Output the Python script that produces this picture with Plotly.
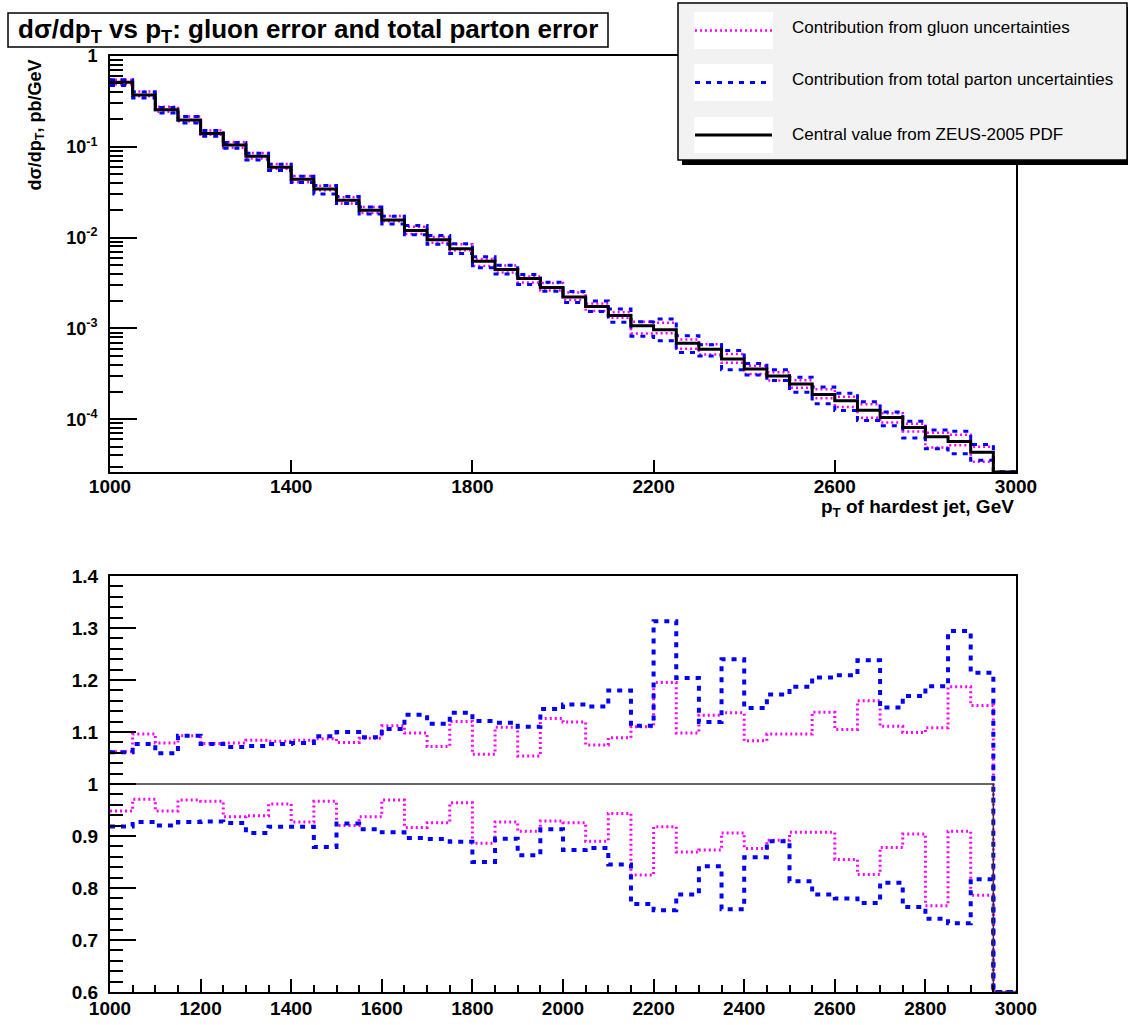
import plotly.graph_objects as go

# ---------------------------------------------------------------- data ----
# 50 GeV bins in pT of the hardest jet, 1000 .. 3000 GeV
bin_lo = list(range(1000, 3000, 50))
x_hi = 3000

# central d(sigma)/dpT [pb/GeV] from ZEUS-2005 PDF (last bin empty)
central = [0.515, 0.372, 0.256, 0.197, 0.1406, 0.1045, 0.0790, 0.0597, 0.0440, 0.0344,
           0.0258, 0.0200, 0.0156, 0.0120, 0.00948, 0.00754, 0.00550, 0.00445, 0.00354, 0.00282,
           0.00222, 0.00175, 0.00139, 0.00107, 0.000968, 0.000690, 0.000592, 0.000462, 0.000359, 0.000300,
           0.000245, 0.000188, 0.000160, 0.000126, 0.000105, 0.0000813, 0.0000641, 0.0000570, 0.0000434, 0.0]

# ratios to the central value: gluon-only and total parton uncertainties
gluon_up = [1.062, 1.096, 1.079, 1.093, 1.078, 1.079, 1.084, 1.082, 1.084, 1.087,
            1.080, 1.088, 1.112, 1.098, 1.072, 1.120, 1.057, 1.109, 1.054, 1.126,
            1.119, 1.075, 1.089, 1.110, 1.195, 1.098, 1.132, 1.137, 1.083, 1.096,
            1.096, 1.138, 1.105, 1.160, 1.111, 1.099, 1.108, 1.187, 1.151, 0.0]
gluon_dn = [0.948, 0.9705, 0.948, 0.969, 0.9666, 0.937, 0.939, 0.9615, 0.927, 0.9666,
            0.920, 0.937, 0.969, 0.9165, 0.9255, 0.964, 0.886, 0.927, 0.909, 0.929,
            0.9255, 0.890, 0.9435, 0.825, 0.918, 0.869, 0.873, 0.906, 0.876, 0.892,
            0.907, 0.907, 0.855, 0.826, 0.878, 0.904, 0.766, 0.909, 0.786, 0.0]
total_up = [1.061, 1.077, 1.059, 1.093, 1.077, 1.071, 1.073, 1.077, 1.079, 1.092,
            1.100, 1.090, 1.106, 1.133, 1.116, 1.137, 1.121, 1.118, 1.110, 1.144,
            1.153, 1.149, 1.180, 1.112, 1.313, 1.204, 1.119, 1.240, 1.146, 1.172,
            1.187, 1.205, 1.209, 1.238, 1.147, 1.169, 1.188, 1.294, 1.214, 0.0]
total_dn = [0.9185, 0.927, 0.920, 0.927, 0.928, 0.925, 0.906, 0.918, 0.918, 0.879,
            0.924, 0.913, 0.907, 0.896, 0.894, 0.889, 0.850, 0.8946, 0.863, 0.913,
            0.873, 0.877, 0.845, 0.769, 0.757, 0.7875, 0.842, 0.759, 0.859, 0.890,
            0.813, 0.7875, 0.780, 0.771, 0.810, 0.7636, 0.741, 0.732, 0.817, 0.0]

top_ticks = [1000, 1400, 1800, 2200, 2600, 3000]
log_ticks = [1, 0.1, 0.01, 0.001, 0.0001]
log_tick_text = ["1", "10<sup>-1</sup>", "10<sup>-2</sup>", "10<sup>-3</sup>", "10<sup>-4</sup>"]

# ---------------------------------------------------------------- style ---
W, H = 1128, 1025
FONT = "Liberation Sans, Arial, Helvetica, sans-serif"
MAGENTA = "#ff00ff"
BLUE = "#0000ff"
LOG_LO, LOG_HI = -4.58, 0.0
RATIO_LO, RATIO_HI = 0.6, 1.4


def px(x):
    return x / W


def py(y):
    return 1 - y / H


def steps(vals, floor):
    """Histogram outline: empty bins are drawn down at the axis floor."""
    ys = [v if v > floor else floor for v in vals]
    return bin_lo + [x_hi], ys + [ys[-1]]


fig = go.Figure()

# ---- upper pad: spectrum with uncertainty envelopes
floor_top = 10 ** LOG_LO
bands = [
    (gluon_up, MAGENTA, 2.5, "2px,3px"),
    (gluon_dn, MAGENTA, 2.5, "2px,3px"),
    (total_up, BLUE, 3, "5px,6px"),
    (total_dn, BLUE, 3, "5px,6px"),
]
for ratio, color, width, dash in bands:
    vals = [c * r for c, r in zip(central, ratio)]
    xs, ys = steps(vals, floor_top)
    fig.add_trace(go.Scatter(x=xs, y=ys, mode="lines", line_shape="hv",
                             line=dict(color=color, width=width, dash=dash),
                             xaxis="x", yaxis="y", showlegend=False, hoverinfo="skip"))
xs, ys = steps(central, floor_top)
fig.add_trace(go.Scatter(x=xs, y=ys, mode="lines", line_shape="hv",
                         line=dict(color="black", width=3),
                         xaxis="x", yaxis="y", showlegend=False, hoverinfo="skip"))

# ---- lower pad: ratios to the central value
ratio_bands = [
    (gluon_up, MAGENTA, 3, "2px,3px"),
    (gluon_dn, MAGENTA, 3, "2px,3px"),
    (total_up, BLUE, 4, "5px,6px"),
    (total_dn, BLUE, 4, "5px,6px"),
]
for ratio, color, width, dash in ratio_bands:
    xs, ys = steps(ratio, RATIO_LO)
    fig.add_trace(go.Scatter(x=xs, y=ys, mode="lines", line_shape="hv",
                             line=dict(color=color, width=width, dash=dash),
                             xaxis="x2", yaxis="y2", showlegend=False, hoverinfo="skip"))
unity = [c / c if c > 0 else 0.0 for c in central]
xs, ys = steps(unity, RATIO_LO)
fig.add_trace(go.Scatter(x=xs, y=ys, mode="lines", line_shape="hv",
                         line=dict(color="#333333", width=1.5),
                         xaxis="x2", yaxis="y2", showlegend=False, hoverinfo="skip"))

# ---------------------------------------------------------------- axes ----
tick_font = dict(family=FONT, size=19, color="black", weight=700)
frame = dict(showline=True, linecolor="black", linewidth=2, mirror=True,
             ticks="inside", tickcolor="black", tickwidth=2, automargin=False,
             showgrid=False, zeroline=False, tickfont=tick_font)

x_dom = [px(110), px(1016)]
minor_log = [k * 10.0 ** n for n in range(-5, 0) for k in range(2, 10)]

fig.update_layout(
    template="none",
    width=W, height=H,
    margin=dict(l=0, r=0, t=0, b=0, pad=0, autoexpand=False),
    paper_bgcolor="white", plot_bgcolor="white",
    xaxis=dict(frame, domain=x_dom, anchor="y", range=[1000, 3000],
               tickmode="array", tickvals=top_ticks, ticklen=12, ticklabelstandoff=-4),
    yaxis=dict(frame, domain=[py(472), py(56)], anchor="x", type="log",
               range=[LOG_LO, LOG_HI], tickmode="array", tickvals=log_ticks,
               ticktext=log_tick_text, ticklen=27, ticklabelstandoff=7,
               tickfont=dict(tick_font, size=18),
               minor=dict(tickmode="array", tickvals=minor_log, ticklen=13,
                          tickwidth=2, tickcolor="black", ticks="inside")),
    xaxis2=dict(frame, domain=x_dom, anchor="y2", range=[1000, 3000],
                tick0=1000, dtick=200, ticklen=13, ticklabelstandoff=-2,
                minor=dict(dtick=50, ticklen=7, tickwidth=2, tickcolor="black",
                           ticks="inside")),
    yaxis2=dict(frame, domain=[py(992), py(576)], anchor="x2",
                range=[RATIO_LO, RATIO_HI], tick0=0.6, dtick=0.1, ticklen=26,
                ticklabelstandoff=6,
                minor=dict(dtick=0.02, ticklen=13, tickwidth=2, tickcolor="black",
                           ticks="inside")),
)

# ---------------------------------------------------------------- text ----
shapes = []
annotations = []

# pad title box
shapes.append(dict(type="rect", xref="paper", yref="paper",
                   x0=px(8), x1=px(608), y0=py(47), y1=py(13),
                   fillcolor="white", line=dict(color="black", width=1.5), layer="above"))
annotations.append(dict(xref="paper", yref="paper", x=px(308), y=py(30),
                        xanchor="center", yanchor="middle", showarrow=False,
                        text="dσ/dp<sub>T</sub> vs p<sub>T</sub>: gluon error and total parton error",
                        font=dict(family=FONT, size=26, color="black", weight=700)))

# axis titles
annotations.append(dict(xref="paper", yref="paper", x=px(36), y=py(58),
                        xanchor="center", yanchor="top", textangle=-90, showarrow=False,
                        text="dσ/dp<sub>T</sub>, pb/GeV",
                        font=dict(family=FONT, size=18, color="black", weight=700)))
annotations.append(dict(xref="paper", yref="paper", x=px(1016), y=py(494),
                        xanchor="right", yanchor="top", showarrow=False,
                        text="p<sub>T</sub> of hardest jet, GeV",
                        font=dict(family=FONT, size=19, color="black", weight=700)))

# legend panel with drop shadow
shapes.append(dict(type="rect", xref="paper", yref="paper",
                   x0=px(682), x1=px(1140), y0=py(165), y1=py(7),
                   fillcolor="black", line=dict(width=0), layer="above"))
shapes.append(dict(type="rect", xref="paper", yref="paper",
                   x0=px(678), x1=px(1127), y0=py(160), y1=py(3),
                   fillcolor="#f2f2f2", line=dict(color="black", width=1.5), layer="above"))
legend_rows = [
    ("Contribution from gluon uncertainties", MAGENTA, 2.5, "2px,3px", 12, 49, 27),
    ("Contribution from total parton uncertainties", BLUE, 3, "5px,6px", 64, 101, 80),
    ("Central value from ZEUS-2005 PDF", "black", 3, "solid", 117, 153, 134),
]
for label, color, width, dash, top, bot, text_y in legend_rows:
    shapes.append(dict(type="rect", xref="paper", yref="paper",
                       x0=px(694), x1=px(773), y0=py(bot), y1=py(top),
                       fillcolor="white", line=dict(width=0), layer="above"))
    mid = (top + bot) / 2
    shapes.append(dict(type="line", xref="paper", yref="paper",
                       x0=px(695), x1=px(772), y0=py(mid), y1=py(mid),
                       line=dict(color=color, width=width, dash=dash), layer="above"))
    annotations.append(dict(xref="paper", yref="paper", x=px(790), y=py(text_y),
                            xanchor="left", yanchor="middle", showarrow=False,
                            text=label, font=dict(family=FONT, size=17, color="black")))

fig.update_layout(shapes=shapes, annotations=annotations)

fig.write_html("out.html")
